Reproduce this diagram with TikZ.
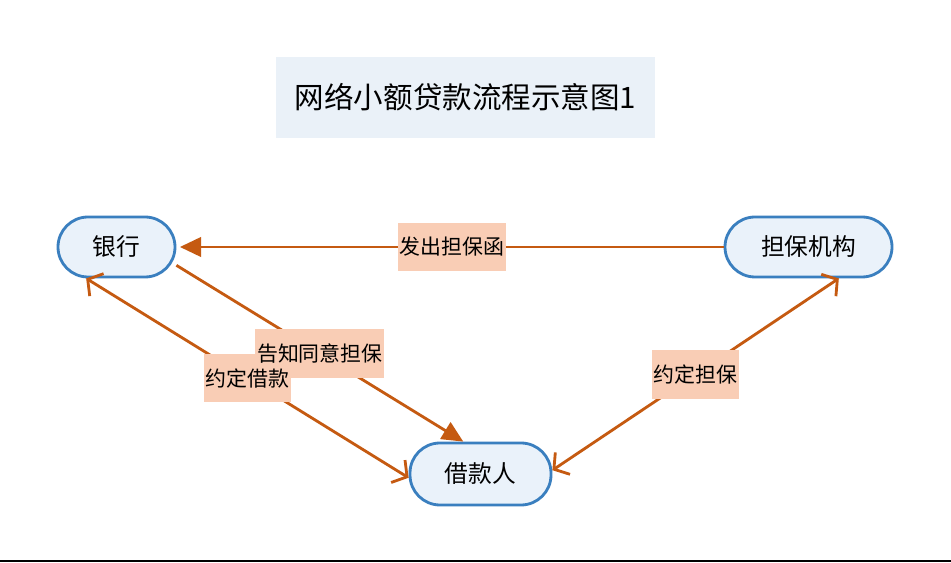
\documentclass[tikz,border=0pt]{standalone}
\usepackage{fontspec}
\setmainfont{Noto Sans CJK SC}
\usetikzlibrary{arrows.meta}
\definecolor{arrowc}{HTML}{C55A11}
\definecolor{nodeb}{HTML}{3A7FBF}
\definecolor{nodef}{HTML}{EAF2FA}
\definecolor{titlef}{HTML}{EAF1F8}
\definecolor{labelf}{HTML}{F9CDB5}
\begin{document}
\begin{tikzpicture}[
        party/.style={draw=nodeb,line width=1.6pt,fill=nodef,rounded corners=0.6cm,
            minimum height=1.2cm,font=\fontsize{13.5}{16}\selectfont},
        flow/.style={draw=arrowc,line width=1.6pt},
        tagfont/.style={inner xsep=1pt,minimum height=0.97cm,font=\fontsize{11.9}{14}\selectfont},
        tag/.style={tagfont,fill=labelf,text opacity=0},
        tagtext/.style={tagfont},
        solid tip/.style={-{Triangle[length=12pt,width=11pt]}},
        open tips/.style={{Straight Barb[length=6pt,width=15pt]}-{Straight Barb[length=6pt,width=15pt]}},
        ]
        \useasboundingbox (0,0) rectangle (19.02,11.26);
        \fill[white] (0,0) rectangle (19.02,11.26);
        \node[fill=titlef,minimum width=7.58cm,minimum height=1.62cm,font=\fontsize{16.8}{20}\selectfont] (title) at (9.31,9.31) {网络小额贷款流程示意图1};
        \node[party,minimum width=2.34cm] (yh) at (2.33,6.32) {银行};
        \node[party,minimum width=3.34cm] (djjg) at (16.17,6.32) {担保机构};
        \node[party,minimum width=2.82cm,minimum height=1.24cm] (jkr) at (9.61,1.78) {借款人};
        \draw[flow,solid tip] (djjg.west) -- node[tag] (l1) {发出担保函} ([xshift=2pt]yh.east);
        \draw[flow,solid tip] (yh.-17) -- node[tag] (l2) {告知同意担保} (jkr.118);
        \draw[flow,open tips] (yh.226) -- node[tag] (l3) {约定借款} (jkr.183);
        \draw[flow,open tips] (jkr.3) -- node[tag] (l4) {约定担保} (djjg.314);
        \node[tagtext] at (l1) {发出担保函};
        \node[tagtext] at (l2) {告知同意担保};
        \node[tagtext] at (l3) {约定借款};
        \node[tagtext] at (l4) {约定担保};
        \draw[line width=0.04cm] (0,0.04) -- (19.02,0.04);
\end{tikzpicture}
\end{document}
